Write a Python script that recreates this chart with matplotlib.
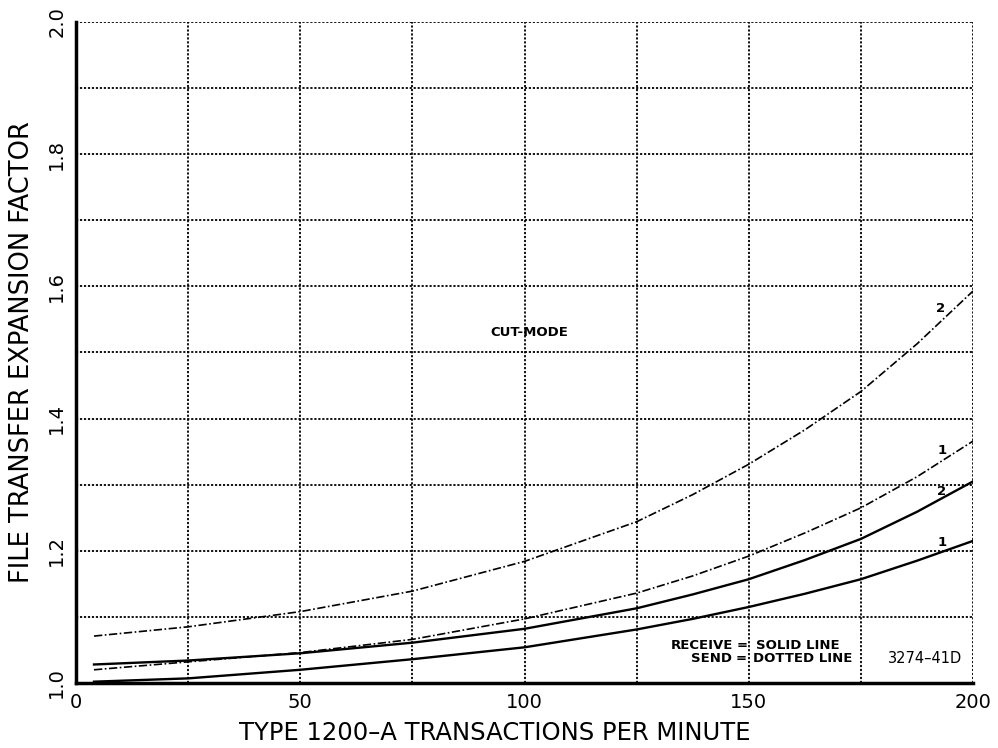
import matplotlib.pyplot as plt
import numpy as np

# values
x_pts = [4, 25, 50, 75, 100, 125, 137.5, 150, 162.5, 175, 187.5, 200]
send_2 = [1.071, 1.085, 1.108, 1.139, 1.184, 1.244, 1.285, 1.331, 1.383, 1.441, 1.513, 1.593]
send_1 = [1.020, 1.032, 1.046, 1.066, 1.097, 1.136, 1.162, 1.192, 1.227, 1.265, 1.312, 1.366]
recv_2 = [1.028, 1.034, 1.045, 1.061, 1.082, 1.113, 1.134, 1.157, 1.186, 1.218, 1.259, 1.305]
recv_1 = [1.002, 1.007, 1.020, 1.036, 1.054, 1.081, 1.097, 1.115, 1.135, 1.157, 1.185, 1.215]

x_ticks = [0, 50, 100, 150, 200]
y_ticks = [1.0, 1.2, 1.4, 1.6, 1.8, 2.0]

fig = plt.figure(figsize=(9.98, 7.48), dpi=100)
ax = fig.add_axes([0.0762, 0.0869, 0.8988, 0.8837])

ax.set_xlim(0, 200)
ax.set_ylim(1.0, 2.0)

# dotted grid every 25 / 0.1
for gx in np.arange(25, 201, 25):
    ax.axvline(gx, color='black', linestyle=(0, (1.2, 1.0)), linewidth=1.3, zorder=1)
for gy in np.arange(1.1, 2.01, 0.1):
    ax.axhline(gy, color='black', linestyle=(0, (1.2, 1.0)), linewidth=1.3, zorder=1)

dashdot = (0, (5, 1.5, 1, 1.5))
ax.plot(x_pts, send_2, color='black', linestyle=dashdot, linewidth=1.2, zorder=3)
ax.plot(x_pts, send_1, color='black', linestyle=dashdot, linewidth=1.2, zorder=3)
ax.plot(x_pts, recv_2, color='black', linewidth=1.7, zorder=3)
ax.plot(x_pts, recv_1, color='black', linewidth=1.7, zorder=3)

lbl = dict(fontsize=9.5, fontweight='bold', ha='center', va='center')
ax.text(192.7, 1.566, '2', **lbl)
ax.text(193.0, 1.352, '1', **lbl)
ax.text(193.0, 1.290, '2', **lbl)
ax.text(193.0, 1.212, '1', **lbl)

note = dict(fontsize=9.5, fontweight='bold', va='center')
ax.text(101, 1.53, 'CUT-MODE', ha='center', **note)
ax.text(146.6, 1.057, 'RECEIVE', ha='right', **note)
ax.text(148.6, 1.057, '=', ha='center', **note)
ax.text(151.6, 1.057, 'SOLID LINE', ha='left', **note)
ax.text(146.2, 1.037, 'SEND', ha='right', **note)
ax.text(148.4, 1.037, '=', ha='center', **note)
ax.text(151.0, 1.037, 'DOTTED LINE', ha='left', **note)
ax.text(189.2, 1.037, '3274\u201341D', fontsize=10.5, ha='center', va='center')

ax.set_xticks(x_ticks)
ax.set_yticks(y_ticks)
ax.set_xticklabels([str(v) for v in x_ticks], fontsize=14)
ax.set_yticklabels([f'{v:.1f}' for v in y_ticks], fontsize=14, rotation=90, va='center')
ax.tick_params(length=0, pad=7)

for side in ['top', 'right']:
    ax.spines[side].set_visible(False)
ax.spines['left'].set_linewidth(2.5)
ax.spines['bottom'].set_linewidth(2.5)

ax.set_xlabel('TYPE 1200\u2013A TRANSACTIONS PER MINUTE', fontsize=17.5)
ax.xaxis.set_label_coords(0.467, -0.058)
ax.set_ylabel('FILE TRANSFER EXPANSION FACTOR', fontsize=18.5, labelpad=9)

fig.savefig('out.png', dpi=100)
